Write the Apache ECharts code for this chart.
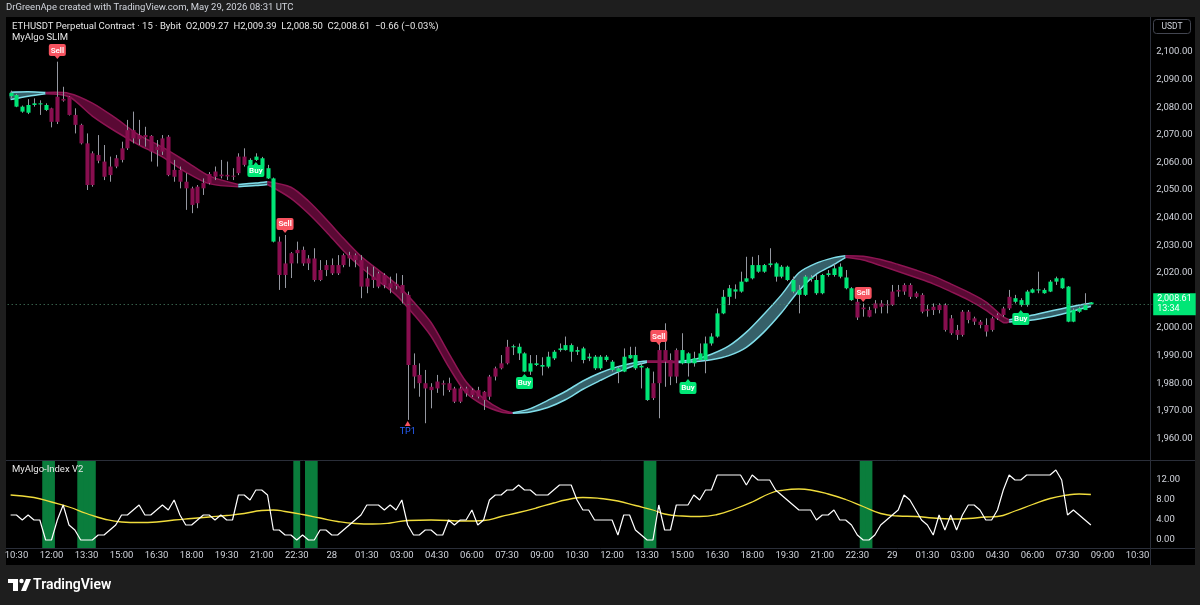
<!DOCTYPE html>
<html>
<head>
<meta charset="utf-8">
<title>ETHUSDT 15</title>
<script src="https://cdn.jsdelivr.net/npm/echarts/dist/echarts.min.js"></script>
<style>
  html, body { margin: 0; padding: 0; background: #1e1e1e; }
  #main { width: 1200px; height: 605px; }
</style>
</head>
<body>
<div id="main"></div>
<script>
// ---- data (15m bars, first bar 27th 10:15) ----
var startMinutes = 10 * 60 + 15;
var barCount = 196; // visible slots incl. empty space on the right

var open = [2084.0,2080.2,2078.4,2078.0,2080.8,2081.0,2079.0,2079.6,2083.8,2083.0,
  2083.8,2077.2,2073.6,2066.9,2063.3,2062.7,2060.3,2058.5,2061.5,2065.1,
  2071.7,2071.7,2069.9,2069.9,2069.6,2065.7,2068.7,2069.3,2057.3,2057.3,
  2053.0,2050.6,2051.2,2052.6,2055.8,2056.7,2055.6,2055.5,2055.2,2062.1,
  2062.1,2059.1,2060.9,2058.5,2054.2,2031.3,2031.3,2023.4,2027.1,2028.3,
  2028.3,2025.2,2025.2,2021.0,2022.8,2022.8,2022.8,2026.4,2026.4,2026.4,
  2024.6,2018.0,2018.6,2019.8,2019.2,2016.2,2016.0,2015.6,2012.0,1986.6,
  1983.0,1980.0,1978.7,1980.6,1980.0,1980.0,1978.1,1978.1,1978.1,1977.5,
  1977.5,1976.9,1982.4,1985.4,1987.2,1993.2,1993.0,1990.8,1984.2,1984.2,
  1986.6,1986.0,1986.0,1989.0,1992.0,1992.0,1991.4,1991.4,1988.4,1989.0,
  1985.4,1985.4,1988.4,1984.8,1984.2,1984.2,1989.0,1985.4,1985.7,1973.9,
  1980.0,1992.0,1992.0,1988.4,1992.0,1987.2,1987.2,1987.2,1988.4,1988.4,
  1994.4,1996.9,2005.3,2011.3,2013.2,2013.2,2016.8,2018.0,2020.4,2020.4,
  2022.8,2018.6,2018.6,2017.4,2013.2,2012.0,2012.0,2017.8,2012.6,2012.6,
  2019.2,2019.2,2018.6,2014.4,2010.1,2009.5,2007.4,2006.5,2008.9,2008.9,
  2008.6,2013.2,2013.8,2015.6,2015.6,2012.6,2012.0,2006.8,2007.7,2008.3,
  2008.3,2003.5,1999.3,2005.9,2005.9,2003.5,2002.3,2001.1,2003.5,2004.7,
  2007.1,2011.3,2009.5,2008.3,2008.3,2012.8,2013.6,2012.6,2013.2,2016.8,
  2014.4,2002.3,2002.3,2005.9,2006.5,2009.27];
var close = [2085.2,2084.4,2080.2,2080.8,2081.4,2081.4,2080.8,2074.7,2074.7,2082.4,
  2077.2,2073.6,2066.9,2051.8,2051.8,2060.6,2054.8,2055.4,2058.5,2060.9,
  2065.1,2068.7,2068.4,2069.1,2063.9,2064.5,2063.9,2055.4,2054.8,2053.0,
  2050.6,2044.6,2045.2,2050.6,2052.5,2054.8,2055.0,2054.9,2054.8,2056.1,
  2059.1,2060.9,2062.1,2061.5,2057.9,2054.2,2019.2,2019.2,2023.4,2027.1,
  2023.4,2023.4,2017.4,2017.4,2021.0,2019.8,2019.8,2022.8,2025.2,2024.6,
  2015.0,2015.0,2017.4,2015.0,2015.6,2014.4,2015.2,2012.6,1986.6,1982.4,
  1980.0,1978.1,1977.5,1978.1,1979.5,1977.5,1973.3,1973.3,1976.3,1975.7,
  1975.1,1973.9,1975.1,1982.4,1985.4,1987.2,1993.4,1993.2,1990.8,1987.2,
  1987.2,1986.6,1989.6,1991.4,1992.6,1993.8,1993.8,1992.0,1992.6,1989.6,
  1989.6,1989.6,1989.6,1987.8,1985.4,1989.6,1990.2,1990.2,1986.3,1985.4,
  1974.6,1980.0,1987.8,1982.4,1982.4,1992.0,1990.8,1989.0,1990.8,1994.4,
  1996.9,2005.3,2011.3,2014.4,2014.0,2016.8,2018.0,2022.8,2022.8,2022.8,
  2023.4,2023.4,2022.2,2022.2,2017.4,2013.8,2018.6,2018.2,2017.4,2019.2,
  2019.8,2021.6,2022.2,2018.3,2014.4,2003.8,2006.8,2004.1,2007.1,2007.7,
  2008.2,2008.3,2013.2,2013.2,2011.3,2011.3,2005.9,2006.2,2006.5,2006.5,
  1999.3,1998.1,1997.5,1997.5,2002.9,2002.3,2001.1,1998.7,1999.3,2003.5,
  2004.7,2007.1,2010.8,2010.1,2013.2,2014.0,2014.0,2013.8,2016.8,2018.0,
  2018.0,2015.0,2006.5,2007.1,2008.3,2008.61];
var low = [2083.4,2080.0,2078.0,2077.5,2080.2,2077.2,2078.6,2072.7,2073.9,2082.0,
  2077.0,2070.5,2066.5,2050.0,2051.2,2059.7,2053.6,2053.0,2057.9,2060.0,
  2064.5,2066.9,2066.3,2065.7,2060.3,2058.5,2062.7,2055.0,2053.0,2050.6,
  2042.8,2041.6,2043.4,2048.2,2052.0,2053.6,2054.2,2053.6,2053.6,2055.4,
  2058.5,2058.8,2060.5,2058.2,2054.0,2031.0,2013.8,2014.5,2018.1,2023.4,
  2022.5,2021.0,2016.8,2017.0,2018.8,2019.2,2019.2,2022.0,2022.2,2022.0,
  2010.8,2012.6,2014.5,2014.4,2014.4,2012.6,2014.0,2008.9,1966.7,1978.1,
  1975.1,1965.5,1970.9,1976.5,1975.5,1976.8,1972.8,1972.8,1975.1,1975.0,
  1974.5,1970.3,1974.0,1981.0,1985.0,1986.8,1990.2,1988.4,1984.0,1983.0,
  1986.2,1982.8,1985.4,1988.4,1991.4,1991.8,1987.8,1990.2,1987.2,1988.0,
  1984.8,1984.8,1987.8,1984.2,1980.0,1984.0,1988.8,1984.8,1978.1,1973.6,
  1973.9,1967.3,1978.7,1979.3,1980.0,1986.8,1982.4,1986.0,1988.0,1983.6,
  1993.6,1996.5,2005.0,2008.3,2010.6,2012.8,2016.6,2017.6,2020.0,2020.0,
  2022.0,2016.8,2018.0,2017.0,2012.6,2005.3,2011.6,2016.8,2012.0,2012.2,
  2018.6,2018.6,2018.0,2014.0,2009.8,2002.9,2004.1,2003.9,2005.3,2005.3,
  2005.3,2008.0,2011.3,2012.0,2010.5,2010.8,2005.3,2004.1,2004.7,2005.3,
  1998.7,1997.5,1995.7,1996.9,2001.7,2001.1,1999.9,1996.9,1998.7,2002.9,
  2004.1,2006.5,2008.9,2007.7,2007.7,2012.6,2012.6,2012.4,2013.0,2015.6,
  2014.2,2002.1,2002.1,2005.5,2006.5,2008.50];
var high = [2086.0,2084.8,2080.6,2082.9,2083.2,2082.5,2081.4,2079.8,2096.5,2087.4,
  2084.0,2079.6,2074.0,2070.5,2064.0,2069.9,2066.3,2062.1,2062.7,2067.5,
  2075.4,2078.4,2075.4,2072.9,2069.9,2068.1,2069.9,2069.9,2060.9,2058.5,
  2056.1,2051.2,2051.8,2054.2,2056.5,2058.5,2060.9,2060.3,2057.9,2063.3,
  2065.1,2061.5,2063.3,2062.0,2059.1,2054.5,2033.1,2033.7,2027.5,2031.3,
  2029.5,2026.4,2028.9,2024.6,2024.6,2025.2,2026.4,2027.0,2027.6,2027.0,
  2026.4,2022.2,2022.2,2020.4,2019.8,2018.6,2019.8,2019.2,2013.2,1990.8,
  1987.2,1984.8,1980.0,1983.0,1981.0,1982.0,1978.7,1978.7,1978.7,1978.1,
  1978.7,1977.2,1983.0,1986.0,1990.2,1995.7,1994.0,1994.4,1991.2,1990.2,
  1990.2,1989.4,1991.4,1992.0,1994.4,1996.9,1994.4,1993.2,1993.2,1990.8,
  1990.2,1990.2,1990.2,1988.4,1986.0,1992.6,1993.2,1993.2,1987.2,1985.8,
  1984.2,1995.7,2001.7,1990.8,1992.6,1998.1,1991.2,1991.4,1994.4,1996.9,
  1998.1,2007.1,2013.8,2015.6,2015.8,2020.4,2025.8,2025.8,2026.4,2023.2,
  2028.9,2023.8,2022.8,2022.6,2018.6,2015.6,2019.2,2019.2,2019.2,2019.6,
  2021.0,2023.4,2023.4,2021.0,2014.8,2011.3,2008.9,2007.7,2010.1,2010.1,
  2010.1,2015.6,2015.6,2016.2,2016.2,2013.2,2012.6,2008.3,2008.9,2008.9,
  2008.9,2004.7,2001.1,2006.5,2006.5,2004.1,2002.9,2003.5,2004.1,2005.3,
  2007.7,2013.8,2012.0,2010.8,2013.8,2014.4,2020.4,2014.4,2017.4,2018.6,
  2018.2,2015.2,2007.1,2007.7,2012.6,2009.39];
// trend state of the MyAlgo candles: 1 = up (green), -1 = down (maroon)
var trendRuns = [[0, 6, 1], [7, 40, -1], [41, 45, 1], [46, 85, -1], [86, 109, 1],
  [110, 114, -1], [115, 144, 1], [145, 171, -1], [172, 185, 1]];

// MyAlgo ribbon: sampled upper / lower edges
var bandIdx = [0,3,6,10,14,18,22,26,30,34,39,42,44,48,51,54,57,60,63,66,69,72,75,78,81,84,86,
  89,92,95,98,101,104,107,109,112,114,117,120,123,126,129,132,135,138,141,143,
  146,149,152,155,158,161,164,167,170,171,174,177,180,183,185];
var bandUp = [2085.4,2085.6,2085.3,2085.0,2081.5,2076.0,2069.9,2065.5,2060.4,2055.1,2052.0,2052.5,2053.0,
  2051.0,2046.0,2039.5,2032.5,2026.0,2021.0,2016.0,2009.5,2002.0,1991.0,1980.5,1974.5,1970.5,1969.3,
  1970.8,1973.8,1977.0,1980.8,1983.8,1986.0,1987.5,1988.0,1988.0,1987.9,1988.6,1990.5,1993.5,1998.5,
  2005.0,2012.0,2020.0,2023.5,2025.5,2026.2,2026.0,2024.8,2023.0,2021.0,2018.8,2016.0,2013.0,2009.5,
  2004.0,2003.0,2004.2,2005.6,2007.0,2008.3,2009.0];
var bandLo = [2082.8,2084.0,2084.9,2083.8,2076.8,2071.2,2066.3,2062.0,2056.5,2052.3,2051.2,2051.6,2052.0,
  2047.0,2041.5,2035.0,2028.0,2022.0,2017.0,2012.0,2005.0,1997.0,1986.0,1976.5,1972.0,1969.6,1969.1,
  1969.6,1971.2,1974.0,1977.8,1981.0,1984.0,1986.5,1987.6,1987.6,1987.5,1987.8,1988.5,1990.0,1993.0,
  1998.5,2005.5,2013.5,2019.5,2023.0,2025.6,2024.6,2022.6,2020.5,2018.3,2016.0,2013.2,2010.2,2006.5,
  2002.0,2002.2,2002.6,2003.6,2005.0,2006.8,2007.8];
var bandSegments = [[0, 6, 1], [6, 39, -1], [39, 44, 1], [44, 86, -1], [86, 109, 1],
  [109, 114, -1], [114, 143, 1], [143, 171, -1], [171, 185, 1]];

// signals: [bar, price level of the tag]
var sellSignals = [[8, 2100.7], [47, 2037.7], [111, 1997.1], [146, 2012.7]];
var buySignals = [[42, 2056.9], [88, 1980.1], [116, 1978.3], [173, 2003.3]];
var tpSignals = [[68, 1965.2]];
var lastPrice = 2008.61;

// MyAlgo-Index V2
var indexLine = [5,5,4,5,4,4,0,0,4,7, 3,2,0,0,0,1,1,2,3,5, 5,6,7,5,5,6,7,6,8,5,
  3,3,4,5,5,4,5,4,4,9, 9,8,10,10,9,2,2,1,1,0, 1,0,0,2,2,1,1,2,3,4,
  5,7,7,7,6,7,6,8,3,1, 1,2,2,1,1,4,3,4,4,6, 3,4,8,9,9,10,10,11,10,10,
  9,9,9,10,11,11,11,8,6,6, 4,4,4,4,1,5,5,2,1,0, 0,7,2,2,7,7,7,9,8,10,
  10,13,13,13,13,13,11,13,12,12, 12,10,9,8,7,6,6,6,4,5, 5,6,4,4,3,1,0,0,1,3,
  4,5,6,9,8,6,4,3,1,5, 2,5,2,5,7,7,6,4,4,6, 10,13,12,12,13,13,13,13,13,14,
  12,5,6,5,4,3];
var signalIdx = [0,4,7,10,13,16,19,22,25,28,31,34,37,40,43,45,47,50,53,56,59,62,65,68,72,78,81,84,87,90,
  93,95,98,101,104,107,110,112,115,118,121,124,127,130,132,135,137,140,143,146,149,152,155,158,161,
  164,167,169,172,175,178,181,183,185];
var signalVal = [9.0,8.5,7.6,6.6,5.3,4.2,3.6,3.5,3.6,4.0,4.3,4.6,4.9,5.3,5.9,6.0,5.7,5.1,4.4,3.7,3.3,3.2,
  3.4,3.9,4.0,3.8,3.9,4.7,5.5,6.4,7.4,8.0,8.5,8.3,7.8,6.9,6.0,5.2,4.8,4.7,5.1,6.2,7.6,9.3,9.9,10.2,
  10.0,9.2,8.1,6.7,5.3,4.8,4.7,4.4,4.2,4.3,4.6,4.7,5.8,7.1,8.3,9.0,9.2,9.1];
var zoneBars = [6, 7, 12, 13, 14, 49, 51, 52, 109, 110, 146, 147];

// ---- colours ----
var UP = '#00e676', DN = '#880e4f', WICK = '#9598a1';
var CYAN = '#80deea', TXT = '#d1d4dc';
var FONT = 'Roboto, "Noto Sans", sans-serif';

// time categories
var cats = [];
for (var i = 0; i < barCount; i++) {
  var m = startMinutes + 15 * i;
  var day = 27 + Math.floor(m / 1440);
  var hh = Math.floor((m % 1440) / 60), mm = m % 60;
  var s = (hh < 10 ? '0' : '') + hh + ':' + (mm < 10 ? '0' : '') + mm;
  cats.push(s === '00:00' ? String(day) : s);
}

var candleRows = open.map(function (o, i) {
  var t = 1;
  trendRuns.forEach(function (r) { if (i >= r[0] && i <= r[1]) t = r[2]; });
  return [i, o, close[i], low[i], high[i], t];
});
var signalRows = [];
sellSignals.forEach(function (d) { signalRows.push([d[0], d[1], 1]); });
buySignals.forEach(function (d) { signalRows.push([d[0], d[1], 2]); });
tpSignals.forEach(function (d) { signalRows.push([d[0], d[1], 3]); });

function fmtPrice(v) {
  return v.toFixed(2).replace(/\B(?=(\d{3})+(?!\d))/, ',');
}

function renderCandle(params, api) {
  var i = api.value(0), o = api.value(1), c = api.value(2), l = api.value(3), h = api.value(4);
  var col = api.value(5) > 0 ? UP : DN;
  var pH = api.coord([i, h]), pL = api.coord([i, l]);
  var pT = api.coord([i, Math.max(o, c)]), pB = api.coord([i, Math.min(o, c)]);
  var w = api.size([1, 0])[0] * 0.7;
  var x = Math.round(pH[0]) + 0.5;
  return {
    type: 'group',
    children: [
      { type: 'line', shape: { x1: x, y1: pH[1], x2: x, y2: pL[1] }, style: { stroke: WICK, lineWidth: 1 } },
      { type: 'rect', shape: { x: x - w / 2, y: pT[1], width: w, height: Math.max(pB[1] - pT[1], 1) },
        style: { fill: col } }
    ]
  };
}

function renderBand(params, api) {
  var s = api.value(0), e = api.value(1), up = api.value(2) > 0;
  var pu = [], pl = [];
  for (var k = 0; k < bandIdx.length; k++) {
    if (bandIdx[k] >= s && bandIdx[k] <= e) {
      pu.push(api.coord([bandIdx[k], bandUp[k]]));
      pl.push(api.coord([bandIdx[k], bandLo[k]]));
    }
  }
  var lineCol = up ? CYAN : '#8e1553';
  var fillCol = up ? 'rgba(90,160,175,0.6)' : 'rgba(120,12,70,0.75)';
  return {
    type: 'group',
    children: [
      { type: 'polygon', shape: { points: pu.concat(pl.slice().reverse()), smooth: 0.3 }, style: { fill: fillCol } },
      { type: 'polyline', shape: { points: pu, smooth: 0.3 }, style: { stroke: lineCol, lineWidth: 1.5, fill: null } },
      { type: 'polyline', shape: { points: pl, smooth: 0.3 }, style: { stroke: lineCol, lineWidth: 1.5, fill: null } }
    ]
  };
}

function renderSignal(params, api) {
  var p = api.coord([api.value(0), api.value(1)]);
  var kind = api.value(2);
  if (kind === 3) {
    return {
      type: 'group',
      children: [
        { type: 'polygon', shape: { points: [[p[0] - 3, p[1] + 2], [p[0] + 3, p[1] + 2], [p[0], p[1] - 3]] },
          style: { fill: '#f7525f' } },
        { type: 'text', x: p[0], y: p[1] + 8,
          style: { text: 'TP1', fill: '#2962ff', font: '9px ' + FONT, align: 'center', verticalAlign: 'middle' } }
      ]
    };
  }
  var sell = kind === 1;
  var bg = sell ? '#f7525f' : UP;
  var tri = sell
    ? [[p[0] - 2.5, p[1] + 6], [p[0] + 2.5, p[1] + 6], [p[0], p[1] + 9]]
    : [[p[0] - 2.5, p[1] - 6], [p[0] + 2.5, p[1] - 6], [p[0], p[1] - 9]];
  return {
    type: 'group',
    children: [
      { type: 'rect', shape: { x: p[0] - 8.5, y: p[1] - 6, width: 17, height: 12, r: 2 }, style: { fill: bg } },
      { type: 'polygon', shape: { points: tri }, style: { fill: bg } },
      { type: 'text', x: p[0], y: p[1] + 0.5,
        style: { text: sell ? 'Sell' : 'Buy', fill: '#ffffff', font: '600 8px ' + FONT, align: 'center', verticalAlign: 'middle' } }
    ]
  };
}

function renderZone(params, api) {
  var i = api.value(0);
  var top = api.coord([i, 15.8]), bot = api.coord([i, -1.6]);
  var w = api.size([1, 0])[0];
  return { type: 'rect', shape: { x: top[0] - w / 2 - 0.5, y: top[1], width: w + 1, height: bot[1] - top[1] },
    style: { fill: '#0a7d3c' } };
}

var chart = echarts.init(document.getElementById('main'));
chart.setOption({
  animation: false,
  backgroundColor: '#1e1e1e',
  textStyle: { fontFamily: FONT },
  graphic: [
    { type: 'rect', z: -10, silent: true, shape: { x: 6, y: 17, width: 1189, height: 548 }, style: { fill: '#000000' } },
    { type: 'line', z: -5, silent: true, shape: { x1: 6, y1: 460.5, x2: 1195, y2: 460.5 }, style: { stroke: '#2a2e39', lineWidth: 1 } },
    { type: 'line', z: -5, silent: true, shape: { x1: 6, y1: 548.5, x2: 1195, y2: 548.5 }, style: { stroke: '#2a2e39', lineWidth: 1 } },
    { type: 'line', z: -5, silent: true, shape: { x1: 1150.5, y1: 17, x2: 1150.5, y2: 565 }, style: { stroke: '#2a2e39', lineWidth: 1 } },
    { type: 'text', z: 100, x: 6, y: 8, style: { text: 'DrGreenApe created with TradingView.com, May 29, 2026 08:31 UTC',
      fill: TXT, font: '9.5px ' + FONT, verticalAlign: 'middle' } },
    { type: 'text', z: 100, x: 12, y: 27, style: { text: 'ETHUSDT Perpetual Contract · 15 · Bybit  O2,009.27  H2,009.39  L2,008.50  C2,008.61  −0.66 (−0.03%)',
      fill: '#e6e6e6', font: '9.5px ' + FONT, verticalAlign: 'middle' } },
    { type: 'text', z: 100, x: 12, y: 38, style: { text: 'MyAlgo SLIM', fill: '#e6e6e6', font: '9.5px ' + FONT, verticalAlign: 'middle' } },
    { type: 'text', z: 100, x: 12, y: 470, style: { text: 'MyAlgo-Index V2', fill: '#e6e6e6', font: '9.5px ' + FONT, verticalAlign: 'middle' } },
    { type: 'rect', z: 100, shape: { x: 1153.5, y: 19.5, width: 37, height: 14, r: 3 }, style: { fill: '#000', stroke: '#434651', lineWidth: 1 } },
    { type: 'text', z: 101, x: 1172, y: 27, style: { text: 'USDT', fill: TXT, font: '8.5px ' + FONT, align: 'center', verticalAlign: 'middle' } },
    // TradingView logo
    { type: 'rect', shape: { x: 8, y: 579, width: 10, height: 4 }, style: { fill: '#ffffff' } },
    { type: 'rect', shape: { x: 13, y: 579, width: 5, height: 12 }, style: { fill: '#ffffff' } },
    { type: 'circle', shape: { cx: 21.5, cy: 581, r: 2.2 }, style: { fill: '#ffffff' } },
    { type: 'polygon', shape: { points: [[21, 591], [26, 579], [31, 579], [26, 591]] }, style: { fill: '#ffffff' } },
    { type: 'text', x: 33, y: 585, style: { text: 'TradingView', fill: '#ffffff', font: '600 14px ' + FONT, verticalAlign: 'middle' } }
  ],
  grid: [
    { left: 7.7, top: 24.4, width: 1144.5, height: 441.6 },
    { left: 7.7, top: 460, width: 1144.5, height: 100 }
  ],
  xAxis: [
    { type: 'category', gridIndex: 0, data: cats, boundaryGap: true,
      axisLine: { show: false }, axisTick: { show: false }, axisLabel: { show: false }, splitLine: { show: false } },
    { type: 'category', gridIndex: 1, data: cats, boundaryGap: true, offset: -12,
      axisLine: { show: false }, axisTick: { show: false }, splitLine: { show: false },
      axisLabel: { color: TXT, fontSize: 9.5, margin: 3,
        interval: function (index) { return (index - 1) % 6 === 0; } } }
  ],
  yAxis: [
    { type: 'value', gridIndex: 0, position: 'right', min: 1950, max: 2110, interval: 10,
      axisLine: { show: false }, axisTick: { show: false }, splitLine: { show: false },
      axisLabel: { color: TXT, fontSize: 9.5, margin: 4, showMinLabel: false, showMaxLabel: false, formatter: fmtPrice } },
    { type: 'value', gridIndex: 1, position: 'right', min: -4, max: 16, interval: 4,
      axisLine: { show: false }, axisTick: { show: false }, splitLine: { show: false },
      axisLabel: { color: TXT, fontSize: 9.5, margin: 4,
        formatter: function (v) { return (v < 0 || v > 12) ? '' : v.toFixed(2); } } }
  ],
  series: [
    { type: 'custom', name: 'ribbon', xAxisIndex: 0, yAxisIndex: 0, z: 1, silent: true,
      renderItem: renderBand, encode: { x: [0, 1], y: 2 }, data: bandSegments },
    { type: 'custom', name: 'ETHUSDT', xAxisIndex: 0, yAxisIndex: 0, z: 2, silent: true,
      renderItem: renderCandle, encode: { x: 0, y: [1, 2, 3, 4] }, data: candleRows,
      markLine: {
        silent: true, symbol: ['none', 'none'], animation: false,
        lineStyle: { color: '#4f8a6c', type: [1, 3], width: 1 },
        label: { show: true, position: 'end', distance: 1, formatter: fmtPrice(lastPrice) + '\n13:34',
          backgroundColor: UP, color: '#ffffff', fontSize: 9, lineHeight: 10, padding: [1, 4, 1, 4] },
        data: [{ yAxis: lastPrice }]
      } },
    { type: 'custom', name: 'signals', xAxisIndex: 0, yAxisIndex: 0, z: 4, silent: true,
      renderItem: renderSignal, encode: { x: 0, y: 1 }, data: signalRows },
    { type: 'custom', name: 'zones', xAxisIndex: 1, yAxisIndex: 1, z: 1, silent: true,
      renderItem: renderZone, encode: { x: 0, y: 1 }, data: zoneBars.map(function (b) { return [b, 0]; }) },
    { type: 'line', name: 'signal', xAxisIndex: 1, yAxisIndex: 1, z: 2, silent: true, showSymbol: false, smooth: 0.5,
      lineStyle: { color: '#f0dc3c', width: 1.3 }, data: signalIdx.map(function (b, k) { return [b, signalVal[k]]; }) },
    { type: 'line', name: 'index', xAxisIndex: 1, yAxisIndex: 1, z: 3, silent: true, showSymbol: false,
      lineStyle: { color: '#ffffff', width: 1.2 }, data: indexLine }
  ]
});
</script>
</body>
</html>
